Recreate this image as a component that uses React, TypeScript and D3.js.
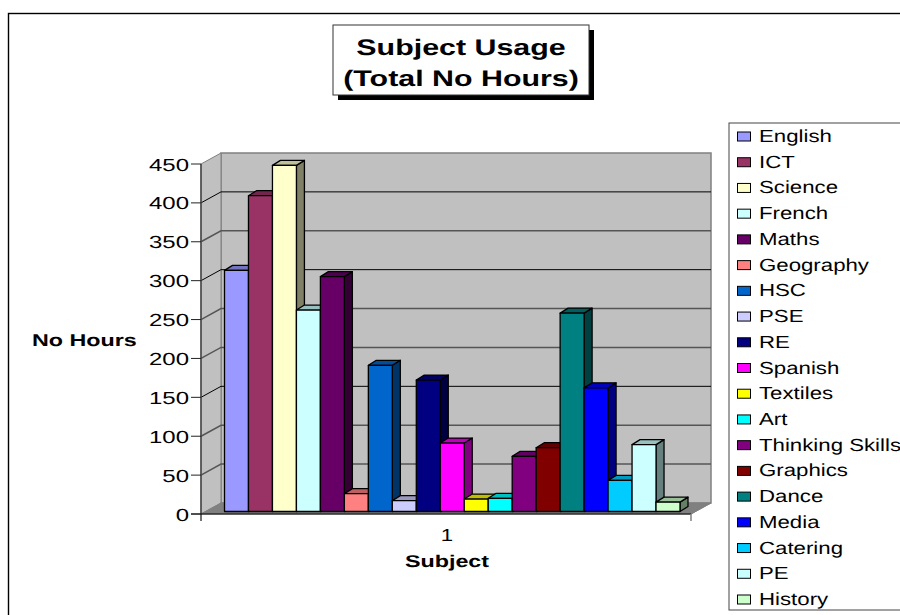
import * as d3 from "d3";

const subjects = ["English", "ICT", "Science", "French", "Maths", "Geography", "HSC", "PSE", "RE", "Spanish", "Textiles", "Art", "Thinking Skills", "Graphics", "Dance", "Media", "Catering", "PE", "History"];
const hours = [310, 406, 445, 259, 302, 23, 188, 14, 169, 88, 16, 17, 71, 82, 255, 159, 40, 86, 12];
const colors = ["#9999FF", "#993366", "#FFFFCC", "#CCFFFF", "#660066", "#FF8080", "#0066CC", "#CCCCFF", "#000080", "#FF00FF", "#FFFF00", "#00FFFF", "#800080", "#800000", "#008080", "#0000FF", "#00CCFF", "#CCFFFF", "#CCFFCC"];
const yTicks = [0, 50, 100, 150, 200, 250, 300, 350, 400, 450];
const darkGrid = [150, 300, 400];
const titleLines = ["Subject Usage", "(Total No Hours)"];

const FONT = "'Liberation Sans', Arial, sans-serif";

// text in the picture is stretched wide, so scale it instead of using a bigger font
function WideText({ x, y, size = 17.5, wide = 1.27, bold = false, anchor = "start", children }: any) {
  return (
    <text
      transform={`translate(${x},${y}) scale(${wide},1)`}
      fontFamily={FONT}
      fontSize={size}
      fontWeight={bold ? "bold" : "normal"}
      textAnchor={anchor}
      textRendering="geometricPrecision"
      fill="#000"
    >
      {children}
    </text>
  );
}

function shade(color: string, k: number) {
  const c = d3.rgb(color);
  return d3.rgb(c.r * k, c.g * k, c.b * k).formatHex();
}

export default function App() {
  const plot = { left: 201, right: 691, top: 164, bottom: 514 };
  const depth = { x: 20, y: -11 };
  const barDepth = { x: 8, y: -5 };

  const yFront = d3.scaleLinear().domain([0, 450]).range([plot.bottom, plot.top]);
  const yBar = d3.scaleLinear().domain([0, 450]).range([511.5, 161.5]);
  const x = d3.scaleBand().domain(subjects).range([224.5, 680]);
  const legendY = d3.scalePoint().domain(subjects).range([142, 605]);

  const poly = (pts: number[][]) => pts.map((p) => p.join(",")).join(" ");
  const backY = (v: number) => yFront(v) + depth.y;
  const backL = plot.left + depth.x;
  const backR = plot.right + depth.x;

  return (
    <svg width={900} height={615} style={{ position: "absolute", left: 0, top: 0, display: "block" }}>
      <rect x={0} y={0} width={900} height={615} fill="#fff" />

      {/* chart frame, runs off the right and bottom */}
      <rect x={8.5} y={13.5} width={1000} height={1000} fill="#fff" stroke="#000" strokeWidth={1.4} />

      {/* title */}
      <rect x={338} y={30} width={256} height={70} fill="#000" />
      <rect x={333} y={25} width={256} height={70} fill="#fff" stroke="#333" />
      {titleLines.map((t, i) => (
        <WideText key={t} x={461} y={55 + i * 31} size={22.5} wide={1.35} bold anchor="middle">{t}</WideText>
      ))}

      {/* walls and floor */}
      <polygon points={poly([[backL, backY(450)], [backR, backY(450)], [backR, backY(0)], [backL, backY(0)]])} fill="#C0C0C0" stroke="#808080" strokeWidth={1.5} />
      <polygon points={poly([[plot.left, yFront(450)], [backL, backY(450)], [backL, backY(0)], [plot.left, yFront(0)]])} fill="#C0C0C0" stroke="#808080" />
      <polygon points={poly([[plot.left, yFront(0)], [backL, backY(0)], [backR, backY(0)], [plot.right, yFront(0)]])} fill="#808080" stroke="#808080" />

      {/* gridlines */}
      {yTicks.filter((v) => v > 0 && v < 450).map((v) => {
        const dark = darkGrid.includes(v);
        return (
          <path
            key={v}
            d={`M${plot.left},${yFront(v)}L${backL},${backY(v)}L${backR},${backY(v)}`}
            fill="none"
            stroke={dark ? "#000" : "#555"}
            strokeWidth={dark ? 1 : 1.5}
          />
        );
      })}

      {/* axes */}
      <line x1={plot.left} x2={plot.left} y1={yFront(450)} y2={yFront(0) + 7} stroke="#444" strokeWidth={1.5} />
      <line x1={plot.left - 10} x2={plot.right} y1={yFront(0)} y2={yFront(0)} stroke="#000" strokeWidth={1.2} />
      <line x1={plot.right} x2={plot.right} y1={yFront(0)} y2={yFront(0) + 7} stroke="#808080" strokeWidth={1.5} />
      <line x1={plot.right} x2={backR} y1={yFront(0)} y2={backY(0)} stroke="#808080" />
      {yTicks.map((v) => (
        <g key={v}>
          <line x1={plot.left - 10} x2={plot.left} y1={yFront(v)} y2={yFront(v)} stroke="#222" />
          <WideText x={189} y={yFront(v) + 6.5} wide={1.37} anchor="end">{v}</WideText>
        </g>
      ))}

      {/* bars, left to right so each front covers the previous side */}
      {subjects.map((s, i) => {
        const x0 = x(s) as number;
        const x1 = x0 + x.bandwidth();
        const y0 = yBar(hours[i]);
        const y1 = yBar(0);
        return (
          <g key={s} stroke="#000" strokeWidth={1.3} strokeLinejoin="round">
            <polygon points={poly([[x1, y0], [x1 + barDepth.x, y0 + barDepth.y], [x1 + barDepth.x, y1 + barDepth.y], [x1, y1]])} fill={shade(colors[i], 0.5)} />
            <polygon points={poly([[x0, y0], [x0 + barDepth.x, y0 + barDepth.y], [x1 + barDepth.x, y0 + barDepth.y], [x1, y0]])} fill={shade(colors[i], 0.75)} />
            <rect x={x0} y={y0} width={x.bandwidth()} height={y1 - y0} fill={colors[i]} />
          </g>
        );
      })}

      {/* axis labels */}
      <WideText x={447} y={541} anchor="middle">1</WideText>
      <WideText x={447} y={567} size={17} wide={1.37} bold anchor="middle">Subject</WideText>
      <WideText x={32} y={346} size={17} wide={1.37} bold>No Hours</WideText>

      {/* legend */}
      <rect x={729} y={123} width={400} height={487} fill="#fff" stroke="#444" />
      {subjects.map((s, i) => {
        const ly = legendY(s) as number;
        return (
          <g key={s}>
            <rect x={737.5} y={ly - 10} width={13} height={9} fill={colors[i]} stroke="#000" />
            <WideText x={759} y={ly}>{s}</WideText>
          </g>
        );
      })}
    </svg>
  );
}
